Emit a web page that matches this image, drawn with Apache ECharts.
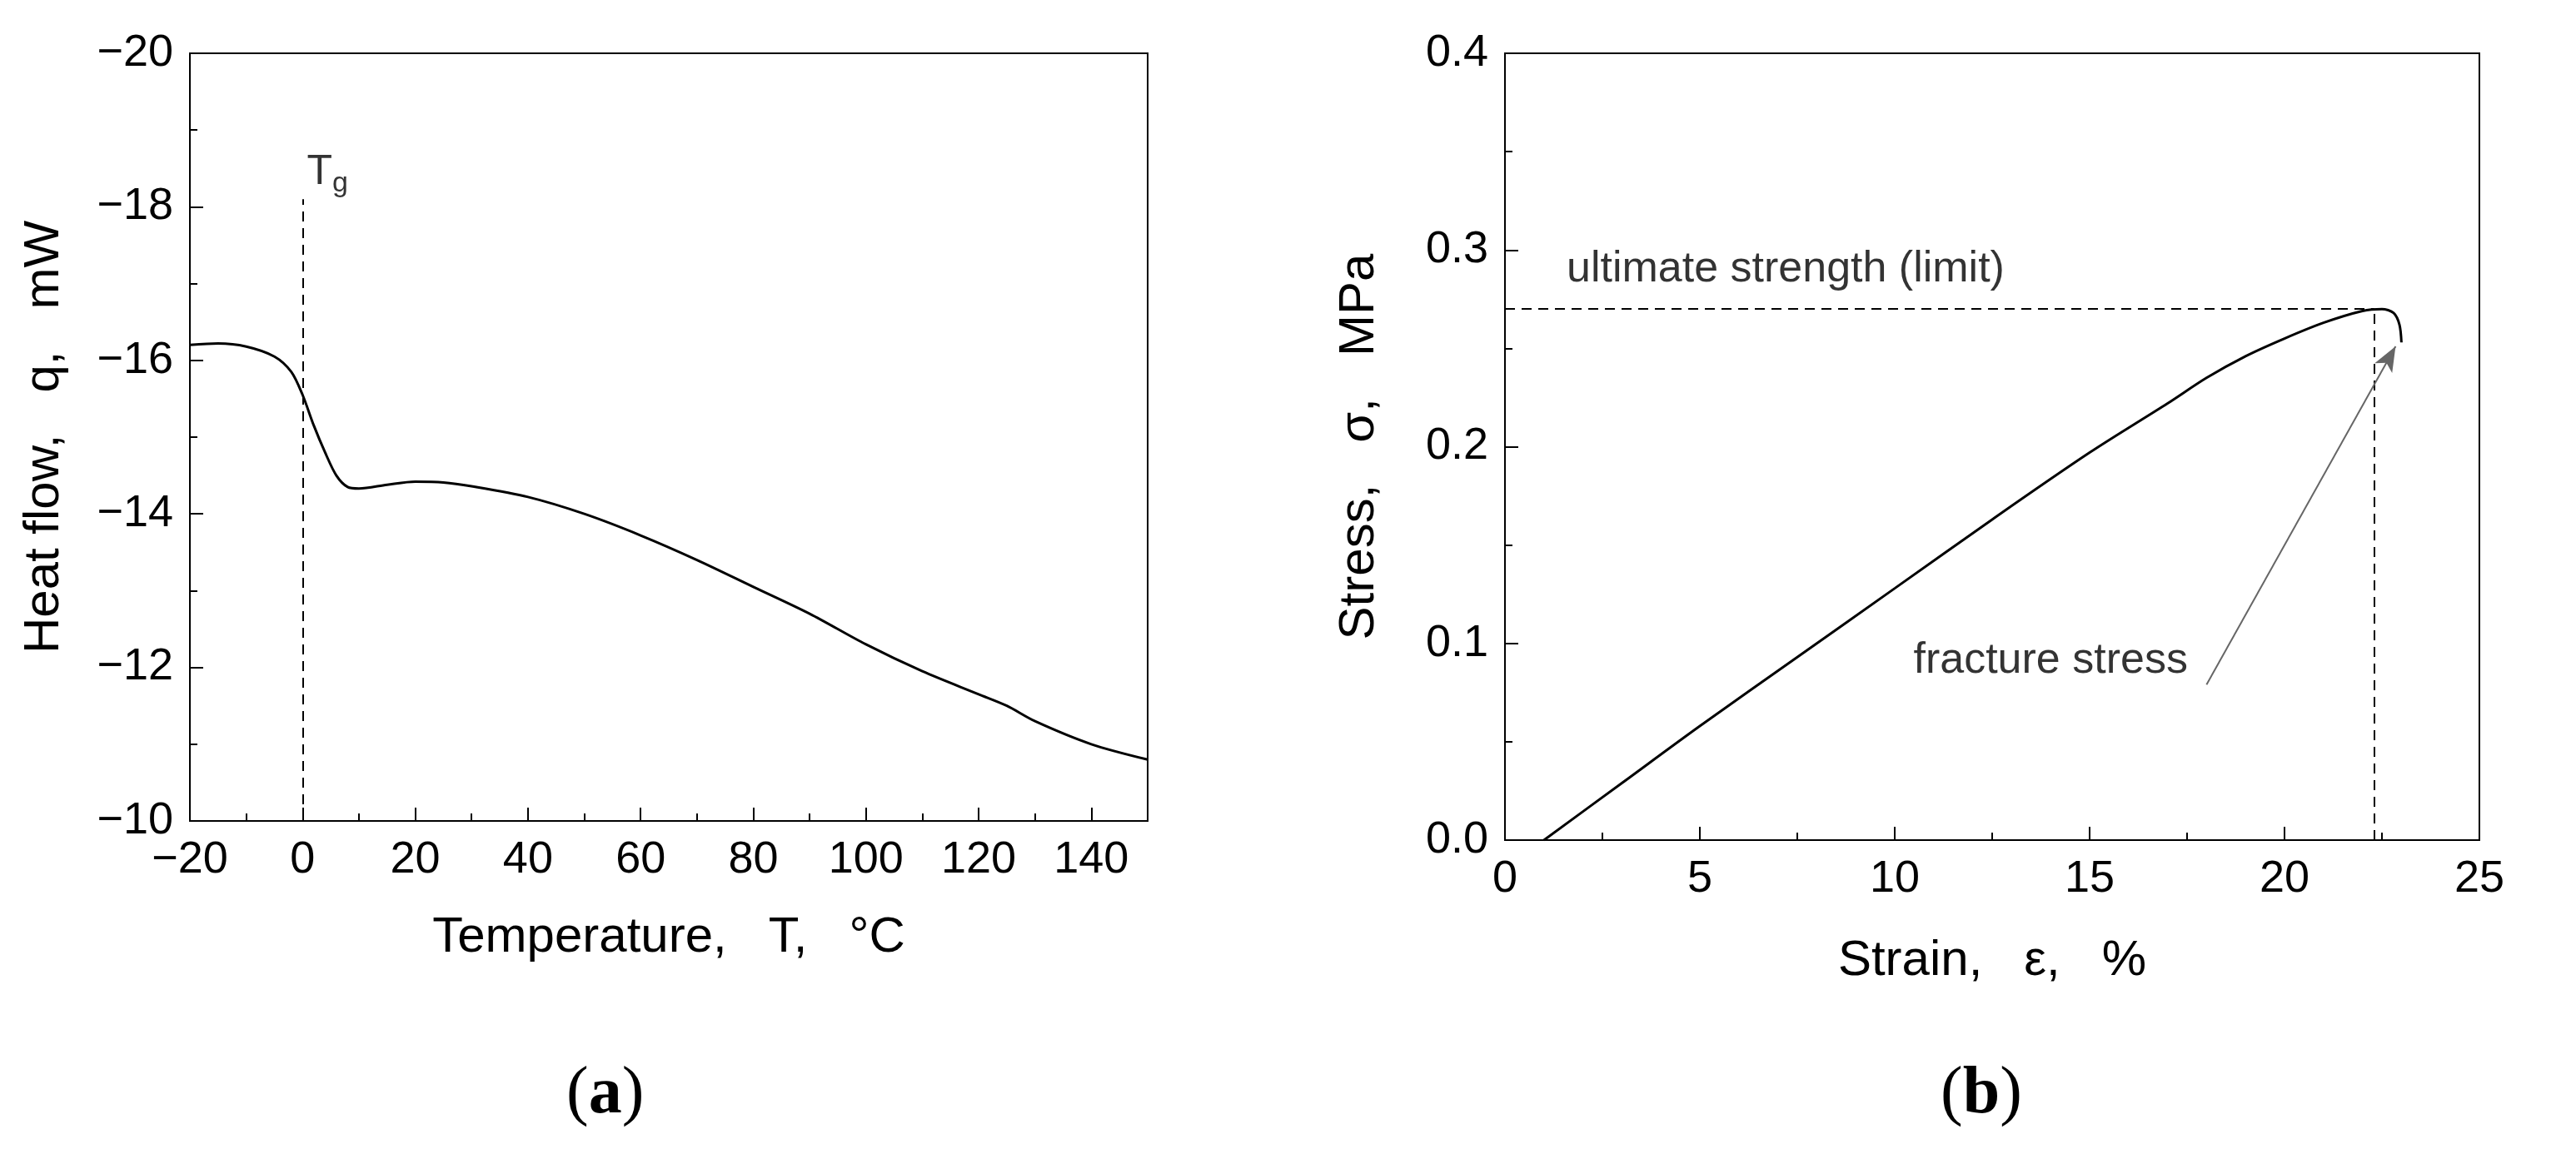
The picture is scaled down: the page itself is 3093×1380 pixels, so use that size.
<!DOCTYPE html>
<html><head><meta charset="utf-8">
<script src="https://cdn.jsdelivr.net/npm/echarts@6/dist/echarts.min.js"></script>
<style>html,body{margin:0;background:#fff}#c{width:3093px;height:1380px}</style>
</head><body><div id="c"></div>
<script>
const tempT = [-20,-15,-10,-5,-2,0,2,4,6,8,10,15,20,25,30,40,50,60,70,80,90,100,110,120,125,130,140,150];
const heatQ = [-16.2,-16.22,-16.18,-16.05,-15.85,-15.55,-15.15,-14.8,-14.5,-14.35,-14.33,-14.38,-14.42,-14.41,-14.36,-14.22,-14.0,-13.72,-13.4,-13.05,-12.7,-12.3,-11.95,-11.65,-11.5,-11.3,-11.0,-10.8];
const strainE = [1.0,3,5,7.5,10,12.5,15,17,18,19,20,21,22,22.5,22.8,22.95,23.0];
const stressS = [0,0.029,0.058,0.093,0.128,0.163,0.197,0.222,0.235,0.246,0.255,0.263,0.269,0.27,0.268,0.262,0.253];
const tg = 0, ultimate = 0.27, ultimateStrain = 22.3;
const arrowFrom = [18.0,0.079], arrowTo = [22.85,0.251];

const F = 'Liberation Sans, Arial, sans-serif';
const minus = v => String(v).replace('-', '\u2212');
function ax(o){
  return Object.assign({
    axisLine:{show:true,onZero:false,lineStyle:{color:'#000',width:2}},
    axisTick:{show:true,inside:true,length:16,lineStyle:{color:'#000',width:2}},
    minorTick:{show:true,splitNumber:2,length:9,lineStyle:{color:'#000',width:2}},
    splitLine:{show:false},
    nameLocation:'middle',
    nameTextStyle:{color:'#000',fontSize:60,fontFamily:F}
  }, o);
}
const lab = f => ({color:'#000',fontSize:54,fontFamily:F,margin:20,formatter:f});
const chart = echarts.init(document.getElementById('c'));
chart.setOption({
  animation:false,
  grid:[
    {left:228,right:1715,top:64,bottom:394,show:true,borderColor:'#000',borderWidth:2},
    {left:1807,right:116,top:64,bottom:371,show:true,borderColor:'#000',borderWidth:2}
  ],
  xAxis:[
    ax({gridIndex:0,type:'value',min:-20,max:150,interval:20,name:'Temperature,   T,   \u00B0C',nameGap:110,axisLabel:lab(minus)}),
    ax({gridIndex:1,type:'value',min:0,max:25,interval:5,name:'Strain,   \u03B5,   %',nameGap:115,axisLabel:lab()})
  ],
  yAxis:[
    ax({gridIndex:0,type:'value',min:-20,max:-10,interval:2,inverse:true,name:'Heat flow,   q,   mW',nameGap:145,axisLabel:lab(minus)}),
    ax({gridIndex:1,type:'value',min:0,max:0.4,interval:0.1,name:'Stress,   \u03C3,   MPa',nameGap:145,axisLabel:lab(v=>v.toFixed(1))})
  ],
  series:[
    {type:'line',xAxisIndex:0,yAxisIndex:0,smooth:0.3,symbol:'none',lineStyle:{color:'#000',width:3},
     data:tempT.map((t,i)=>[t,heatQ[i]]),
     markLine:{silent:true,symbol:'none',lineStyle:{color:'#000',type:[12,8],width:2},label:{show:false},
       data:[[{coord:[tg,-10]},{coord:[tg,-18.1]}]]}},
    {type:'scatter',xAxisIndex:0,yAxisIndex:0,symbolSize:0,data:[[tg,-18.45]],
     label:{show:true,position:'inside',formatter:'{a|T}{b|g}',rich:{a:{fontSize:50,fontFamily:F,color:'#000'},b:{fontSize:34,fontFamily:F,color:'#000',padding:[28,0,0,0]}},offset:[30,0]}},
    {type:'line',xAxisIndex:1,yAxisIndex:1,smooth:0.3,symbol:'none',lineStyle:{color:'#000',width:3},
     data:strainE.map((e,i)=>[e,stressS[i]]),
     markLine:{silent:true,symbol:'none',lineStyle:{color:'#000',type:[12,8],width:2},label:{show:false},
       data:[[{coord:[0,ultimate]},{coord:[ultimateStrain,ultimate]}],[{coord:[ultimateStrain,0]},{coord:[ultimateStrain,ultimate]}],
             [{coord:arrowFrom,symbol:'none',lineStyle:{color:'#666',type:'solid',width:2}},{coord:arrowTo,symbol:'arrow',symbolSize:[18,30],lineStyle:{color:'#666',type:'solid',width:2}}]]}},
    {type:'scatter',xAxisIndex:1,yAxisIndex:1,symbolSize:0,
     data:[{value:[7.2,0.29],label:{formatter:'ultimate strength (limit)'}},{value:[14.0,0.091],label:{formatter:'fracture stress'}}],
     label:{show:true,position:'inside',fontSize:52,fontFamily:F,color:'#000'}}
  ],
  graphic:[
    {type:'text',left:680,top:1275,style:{text:'({b|a})',rich:{b:{fontWeight:'bold',fontSize:80,fontFamily:'Liberation Serif'}},fontSize:80,fontFamily:'Liberation Serif',fill:'#000'}},
    {type:'text',left:2330,top:1275,style:{text:'({b|b})',rich:{b:{fontWeight:'bold',fontSize:80,fontFamily:'Liberation Serif'}},fontSize:80,fontFamily:'Liberation Serif',fill:'#000'}}
  ]
});
</script></body></html>
